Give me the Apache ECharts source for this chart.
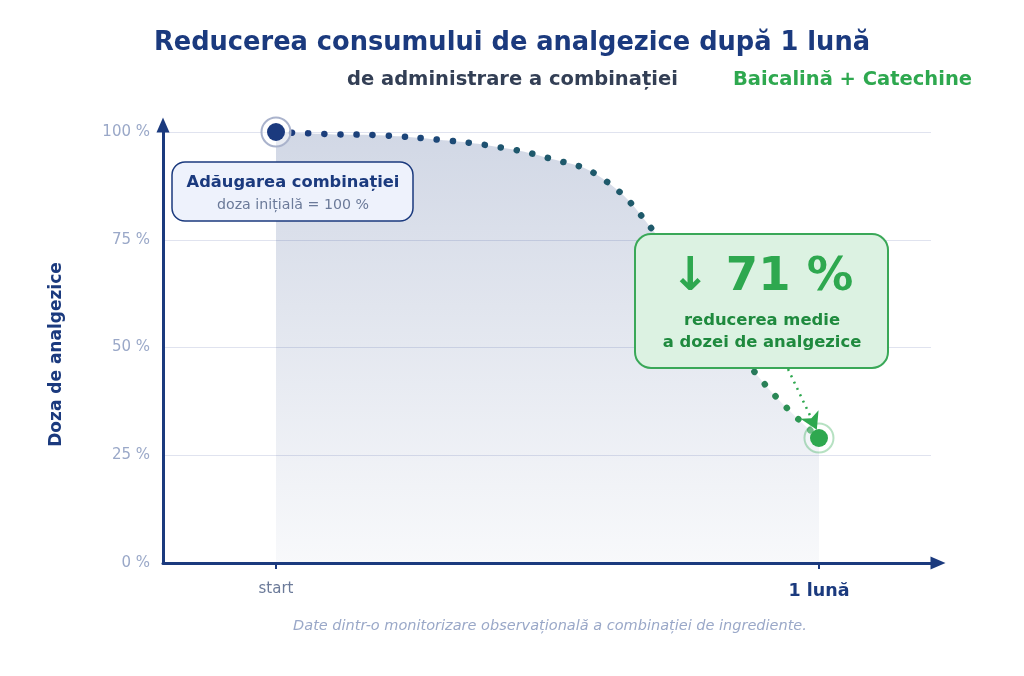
<!DOCTYPE html>
<html>
<head>
<meta charset="utf-8">
<script src="https://cdn.jsdelivr.net/npm/echarts@6/dist/echarts.min.js"></script>
<style>
html,body{margin:0;padding:0;background:#fff}
#chart{width:1024px;height:676px}
</style>
</head>
<body>
<div id="chart"></div>
<script>
// valori (x: 0 = start, 1 = 1 luna ; y: doza %)
var curveX = [0, 0.1, 0.2, 0.3, 0.4, 0.5, 0.6, 0.7, 0.8, 0.9, 1]
var curveY = [100, 99.5, 99.2, 98.2, 96.7, 94.0, 89.3, 76.3, 58.6, 41.5, 29]
var yTicks = [0, 25, 50, 75, 100]
var xTickValues = [0, 1]
var xTickLabels = ['start', '1 lună']
var reduction = 71

var navy = '#1b3a7e'
var green = '#2ea84f'
var font = 'DejaVu Sans'

var lineData = []
for (var i = 0; i < curveX.length; i++) {
    lineData.push([curveX[i], curveY[i]])
}
var first = lineData[0]
var last = lineData[lineData.length - 1]

var myChart = echarts.init(document.getElementById('chart'))
var option = {
    backgroundColor: '#fff',
    animation: false,
    textStyle: {fontFamily: font},
    grid: {left: 163, right: 93, top: 132, bottom: 113},
    xAxis: {
        type: 'value',
        min: -0.2081,
        max: 1.2063,
        axisLine: {
            show: true,
            lineStyle: {color: navy, width: 3},
            symbol: ['none', 'triangle'],
            symbolSize: [13, 15],
            symbolOffset: [0, 7]
        },
        axisTick: {
            show: true,
            customValues: xTickValues,
            length: 6,
            lineStyle: {color: navy, width: 2}
        },
        axisLabel: {
            customValues: xTickValues,
            margin: 19,
            formatter: function (v) {
                var idx = xTickValues.indexOf(v)
                if (idx < 0) return ''
                return idx === 0 ? '{s|' + xTickLabels[idx] + '}' : '{l|' + xTickLabels[idx] + '}'
            },
            rich: {
                s: {fontSize: 15, color: '#6b7a99', fontFamily: font},
                l: {fontSize: 17.5, fontWeight: 'bold', color: navy, fontFamily: font}
            }
        },
        splitLine: {show: false}
    },
    yAxis: {
        type: 'value',
        min: 0,
        max: 100,
        interval: 25,
        name: 'Doza de analgezice',
        nameLocation: 'middle',
        nameGap: 98,
        nameRotate: 90,
        nameTextStyle: {fontSize: 17, fontWeight: 'bold', color: navy, fontFamily: font, padding: [0, 14, 0, 0]},
        axisLine: {
            show: true,
            onZero: false,
            lineStyle: {color: navy, width: 3},
            symbol: ['none', 'triangle'],
            symbolSize: [13, 15],
            symbolOffset: [0, 7]
        },
        axisTick: {show: false},
        axisLabel: {
            margin: 13,
            fontSize: 15,
            color: '#9aa8c8',
            formatter: '{value} %'
        },
        splitLine: {lineStyle: {color: '#e0e3ef', width: 1.2}}
    },
    series: [
        {
            type: 'line',
            data: lineData,
            smooth: 0.45,
            symbol: 'none',
            z: 3,
            lineStyle: {
                width: 6.5,
                cap: 'round',
                type: [0.1, 16],
                color: new echarts.graphic.LinearGradient(0, 0, 1, 0, [
                    {offset: 0, color: '#1b3a7e'},
                    {offset: 0.3, color: '#1d4878'},
                    {offset: 0.45, color: '#1f596c'},
                    {offset: 0.78, color: '#1f5a6a'},
                    {offset: 0.9, color: '#2a8257'},
                    {offset: 1, color: green}
                ])
            },
            areaStyle: {
                origin: 'start',
                opacity: 1,
                color: new echarts.graphic.LinearGradient(0, 0, 0, 1, [
                    {offset: 0, color: 'rgba(27,58,126,0.2)'},
                    {offset: 1, color: 'rgba(27,58,126,0.03)'}
                ])
            }
        },
        {
            // inele in jurul punctelor
            type: 'scatter',
            z: 4,
            symbolSize: 29,
            data: [
                {value: first, itemStyle: {color: 'rgba(255,255,255,0.5)', borderColor: '#aab3cc', borderWidth: 2, opacity: 1}},
                {value: last, itemStyle: {color: 'rgba(255,255,255,0.3)', borderColor: 'rgba(46,168,79,0.35)', borderWidth: 2, opacity: 1}}
            ],
            markLine: {
                silent: true,
                symbol: ['none', 'arrow'],
                symbolSize: [15, 17],
                label: {show: false},
                lineStyle: {color: green, width: 2.5, type: [2, 5]},
                data: [[
                    {coord: [0.943, 45.0]},
                    {coord: [0.996, 30.9]}
                ]]
            }
        },
        {
            type: 'scatter',
            z: 5,
            symbolSize: 18,
            data: [
                {value: first, itemStyle: {color: navy, opacity: 1}},
                {value: last, itemStyle: {color: green, opacity: 1}}
            ]
        }
    ],
    graphic: [
        {
            type: 'text', left: 'center', top: 30,
            style: {text: 'Reducerea consumului de analgezice după 1 lună', font: 'bold 25.7px "DejaVu Sans"', fill: navy}
        },
        {
            type: 'text', x: 347, y: 70,
            style: {text: 'de administrare a combinației', font: 'bold 19.5px "DejaVu Sans"', fill: '#333f55'}
        },
        {
            type: 'text', x: 733, y: 70,
            style: {text: 'Baicalină + Catechine', font: 'bold 19.5px "DejaVu Sans"', fill: green}
        },
        {
            type: 'rect', z: 10,
            shape: {x: 172, y: 162, width: 241, height: 59, r: 13},
            style: {fill: '#eef2fc', stroke: navy, lineWidth: 1.5}
        },
        {
            type: 'text', z: 11, x: 293, y: 183,
            style: {text: 'Adăugarea combinației', font: 'bold 16.3px "DejaVu Sans"', fill: navy, align: 'center', verticalAlign: 'middle'}
        },
        {
            type: 'text', z: 11, x: 293, y: 205,
            style: {text: 'doza inițială = 100 %', font: '14.2px "DejaVu Sans"', fill: '#6b7a99', align: 'center', verticalAlign: 'middle'}
        },
        {
            type: 'rect', z: 10,
            shape: {x: 635, y: 234, width: 253, height: 134, r: 16},
            style: {fill: '#dcf2e2', stroke: '#3aa858', lineWidth: 2}
        },
        {
            type: 'text', z: 11, x: 762, y: 278,
            style: {text: '↓ ' + reduction + ' %', font: 'bold 46.5px "DejaVu Sans"', fill: green, align: 'center', verticalAlign: 'middle'}
        },
        {
            type: 'text', z: 11, x: 762, y: 321,
            style: {text: 'reducerea medie', font: 'bold 16.4px "DejaVu Sans"', fill: '#1f8a3e', align: 'center', verticalAlign: 'middle'}
        },
        {
            type: 'text', z: 11, x: 762, y: 343,
            style: {text: 'a dozei de analgezice', font: 'bold 16.4px "DejaVu Sans"', fill: '#1f8a3e', align: 'center', verticalAlign: 'middle'}
        },
        {
            type: 'text', x: 550, y: 626,
            style: {text: 'Date dintr-o monitorizare observațională a combinației de ingrediente.', font: 'italic 14.5px "DejaVu Sans"', fill: '#9aa8c8', align: 'center', verticalAlign: 'middle'}
        }
    ]
}
myChart.setOption(option)
</script>
</body>
</html>
